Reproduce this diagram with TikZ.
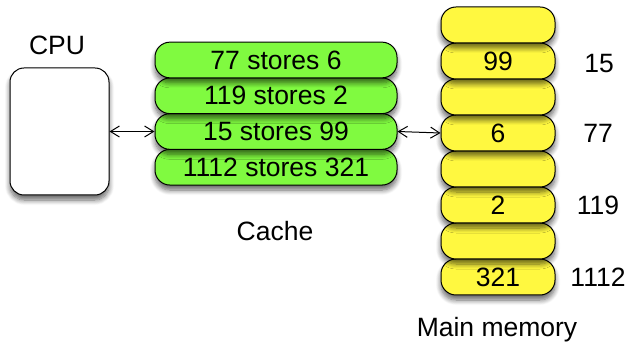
\documentclass[tikz,border=0pt]{standalone}
\usepackage{fontspec}
\setmainfont{Liberation Sans}
\usetikzlibrary{arrows.meta,shadows.blur}
\definecolor{cachegreen}{RGB}{128,250,64}
\definecolor{memyellow}{RGB}{255,248,64}
\tikzset{
  box/.style={draw=black,line width=1pt,rounded corners=15pt,inner sep=0pt,
    blur shadow={shadow xshift=0pt,shadow yshift=-5pt,shadow blur steps=8,shadow blur radius=5pt,shadow opacity=60}},
  cpubox/.style={box,fill=white,minimum width=99pt,minimum height=127pt,rounded corners=14pt},
  cachebox/.style={box,fill=cachegreen,minimum width=242pt,minimum height=35.7pt},
  membox/.style={box,fill=memyellow,minimum width=114pt,minimum height=36pt},
  lbl/.style={inner sep=0pt},
  link/.style={line width=1pt,{Straight Barb[length=9pt,width=11pt]}-{Straight Barb[length=9pt,width=11pt]}}
}
\begin{document}
\begin{tikzpicture}[x=1pt,y=-1pt,font=\fontsize{26.5}{30}\selectfont]
\useasboundingbox (0,0) rectangle (629,344);
\node[cpubox] (cpu) at (59.5,131.5) {};
\node[lbl] (cputxt) at (57,45) {CPU};
\node[cachebox] (c4) at (276,167.2) {1112 stores 321};
\node[cachebox] (c3) at (276,131.5) {15 stores 99};
\node[cachebox] (c2) at (276,95.8) {119 stores 2};
\node[cachebox] (c1) at (276,60) {77 stores 6};
\node[lbl] (cachetxt) at (275,231) {Cache};
\node[membox] (m8) at (498,277) {321};
\node[membox] (m7) at (498,241) {};
\node[membox] (m6) at (498,205) {2};
\node[membox] (m5) at (498,169) {};
\node[membox] (m4) at (498,133) {6};
\node[membox] (m3) at (498,97) {};
\node[membox] (m2) at (498,61) {99};
\node[membox] (m1) at (498,25) {};
\node[lbl] (a15) at (599,64) {15};
\node[lbl] (a77) at (598,133) {77};
\node[lbl] (a119) at (598,205) {119};
\node[lbl] (a1112) at (598,277) {1112};
\node[lbl] (memtxt) at (497,330) {Main memory};
\draw[link] (cpu.east) -- (c3.west);
\draw[link] (c3.east) -- (m4.west);
\end{tikzpicture}
\end{document}
